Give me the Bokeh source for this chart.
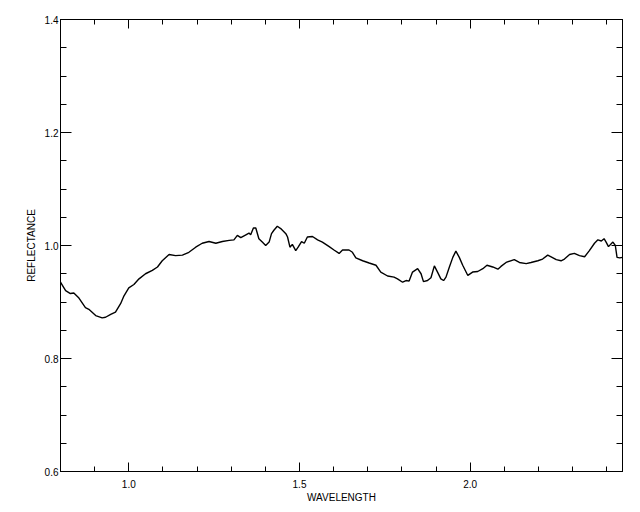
from bokeh.plotting import figure
from bokeh.models import Range1d, LinearAxis, SingleIntervalTicker, PrintfTickFormatter
from bokeh.embed import file_html
from bokeh.resources import INLINE

wavelength = [0.800, 0.803, 0.815, 0.829, 0.839, 0.854, 0.873, 0.883, 0.903, 0.922,
              0.932, 0.947, 0.961, 0.976, 0.986, 1.000, 1.015, 1.030, 1.049, 1.069,
              1.084, 1.098, 1.118, 1.137, 1.157, 1.176, 1.196, 1.215, 1.235, 1.255,
              1.274, 1.294, 1.308, 1.318, 1.328, 1.343, 1.352, 1.357, 1.365, 1.372,
              1.381, 1.391, 1.401, 1.411, 1.418, 1.425, 1.435, 1.445, 1.460, 1.465,
              1.472, 1.479, 1.489, 1.496, 1.506, 1.514, 1.523, 1.538, 1.553, 1.567,
              1.587, 1.601, 1.616, 1.626, 1.645, 1.655, 1.665, 1.685, 1.704, 1.724,
              1.738, 1.758, 1.777, 1.787, 1.802, 1.812, 1.821, 1.831, 1.846, 1.856,
              1.863, 1.875, 1.885, 1.895, 1.905, 1.914, 1.922, 1.929, 1.939, 1.949,
              1.958, 1.968, 1.978, 1.993, 2.007, 2.022, 2.037, 2.049, 2.066, 2.081,
              2.090, 2.105, 2.129, 2.144, 2.164, 2.178, 2.198, 2.212, 2.227, 2.237,
              2.252, 2.266, 2.276, 2.291, 2.305, 2.320, 2.335, 2.349, 2.364, 2.374,
              2.384, 2.392, 2.398, 2.405, 2.413, 2.418, 2.425, 2.430, 2.438, 2.446]

reflectance = [0.935, 0.932, 0.920, 0.915, 0.916, 0.907, 0.890, 0.887, 0.876, 0.872,
               0.873, 0.878, 0.882, 0.897, 0.911, 0.925, 0.931, 0.941, 0.950, 0.956,
               0.962, 0.973, 0.984, 0.982, 0.983, 0.988, 0.997, 1.004, 1.007, 1.004,
               1.007, 1.009, 1.010, 1.018, 1.014, 1.019, 1.022, 1.019, 1.031, 1.031,
               1.012, 1.006, 1.000, 1.006, 1.021, 1.027, 1.034, 1.030, 1.021, 1.015,
               0.997, 1.002, 0.991, 0.997, 1.007, 1.004, 1.015, 1.016, 1.010, 1.006,
               0.998, 0.992, 0.986, 0.992, 0.992, 0.988, 0.978, 0.973, 0.969, 0.965,
               0.953, 0.946, 0.944, 0.941, 0.935, 0.938, 0.937, 0.953, 0.959, 0.950,
               0.936, 0.938, 0.943, 0.964, 0.952, 0.941, 0.938, 0.944, 0.962, 0.979,
               0.990, 0.979, 0.965, 0.947, 0.953, 0.954, 0.959, 0.965, 0.962, 0.958,
               0.963, 0.970, 0.975, 0.970, 0.968, 0.970, 0.973, 0.976, 0.983, 0.980,
               0.975, 0.973, 0.976, 0.984, 0.986, 0.982, 0.980, 0.991, 1.004, 1.010,
               1.008, 1.012, 1.006, 0.998, 1.003, 1.006, 1.000, 0.979, 0.978, 0.979]

x_label = "WAVELENGTH"
y_label = "REFLECTANCE"
y_min, y_max = 0.6, 1.4

FONT = "Liberation Sans"

p = figure(frame_width=562, frame_height=452, output_backend="svg", toolbar_location=None,
           x_range=Range1d(wavelength[0], wavelength[-1]),
           y_range=Range1d(y_min, y_max + 1e-9),
           min_border_left=60, min_border_top=19, min_border_right=10, min_border_bottom=33)
p.background_fill_color = "white"
p.border_fill_color = "white"
p.outline_line_color = "black"
p.outline_line_width = 1
p.grid.visible = False

p.line(wavelength, reflectance, line_color="black", line_width=1.4)

def style(ax, labels=True, xaxis=True):
    ax.ticker = SingleIntervalTicker(interval=0.5 if xaxis else 0.2,
                                     num_minor_ticks=5 if xaxis else 4)
    ax.axis_line_color = "black"
    ax.major_tick_line_color = "black"
    ax.minor_tick_line_color = "black"
    ax.major_tick_in = 9 if xaxis else 11
    ax.major_tick_out = 0
    ax.minor_tick_in = 5 if xaxis else 6
    ax.minor_tick_out = 0
    if labels:
        ax.formatter = PrintfTickFormatter(format="%.1f")
        ax.major_label_text_font = FONT
        ax.major_label_text_font_size = "10px"
        ax.major_label_text_color = "black"
        ax.axis_label_text_font = FONT
        ax.axis_label_text_font_size = "10px"
        ax.axis_label_text_font_style = "normal"
        ax.axis_label_text_color = "black"
    else:
        ax.major_label_text_font_size = "0px"
        ax.major_label_standoff = 0
        ax.axis_label = None

xa = p.xaxis[0]
style(xa, True, True)
xa.axis_label = x_label
xa.major_label_standoff = 8
xa.axis_label_standoff = 1

ya = p.yaxis[0]
style(ya, True, False)
ya.axis_label = y_label
ya.major_label_standoff = 2
ya.axis_label_standoff = 5

top = LinearAxis()
style(top, False, True)
p.add_layout(top, "above")
right = LinearAxis()
style(right, False, False)
p.add_layout(right, "right")

open("out.html", "w").write(file_html(p, INLINE))
